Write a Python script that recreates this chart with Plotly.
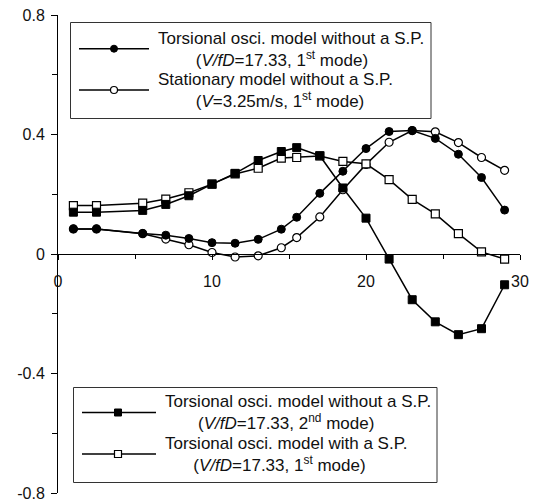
import plotly.graph_objects as go

# Measurement stations along the span
position = [1, 2.5, 5.5, 7, 8.5, 10, 11.5, 13, 14.5, 15.5, 17, 18.5, 20, 21.5, 23, 24.5, 26, 27.5, 29]

# Mode-shape amplitudes of each model
torsional_no_sp_1st = [0.084, 0.084, 0.069, 0.063, 0.052, 0.038, 0.036, 0.049, 0.083, 0.123,
                       0.203, 0.277, 0.353, 0.410, 0.413, 0.387, 0.334, 0.256, 0.147]
stationary_no_sp_1st = [0.084, 0.084, 0.068, 0.050, 0.031, 0.005, -0.010, -0.006, 0.021, 0.055,
                        0.124, 0.215, 0.300, 0.374, 0.413, 0.409, 0.373, 0.323, 0.280]
torsional_no_sp_2nd = [0.140, 0.140, 0.146, 0.166, 0.195, 0.234, 0.270, 0.313, 0.343, 0.356,
                       0.329, 0.221, 0.120, -0.017, -0.153, -0.227, -0.270, -0.250, -0.103]
torsional_with_sp_1st = [0.162, 0.162, 0.170, 0.184, 0.205, 0.234, 0.268, 0.287, 0.321, 0.323,
                         0.328, 0.310, 0.302, 0.249, 0.183, 0.134, 0.068, 0.007, -0.017]

x_tick_vals = [0, 10, 20, 30]
y_tick_vals = [-0.8, -0.4, 0, 0.4, 0.8]
y_tick_text = ["-0.8", "-0.4", "0", "0.4", "0.8"]

top_legend_labels = [
    ("Torsional osci. model without a S.P.", "(<i>V/fD</i>=17.33, 1<sup>st</sup> mode)"),
    ("Stationary model without a S.P.", "(<i>V</i>=3.25m/s, 1<sup>st</sup> mode)"),
]
bottom_legend_labels = [
    ("Torsional osci. model without a S.P.", "(<i>V/fD</i>=17.33, 2<sup>nd</sup> mode)"),
    ("Torsional osci. model with a S.P.", "(<i>V/fD</i>=17.33, 1<sup>st</sup> mode)"),
]

FONT = "Liberation Sans, Arial, sans-serif"
INK = "#111111"
W, H = 539, 503
ML, MR, MT, MB = 58, 19, 15, 10

filled_circle = dict(symbol="circle", size=8, color="black", line=dict(color="black", width=1))
open_circle = dict(symbol="circle", size=8, color="white", line=dict(color="black", width=1.2))
filled_square = dict(symbol="square", size=8, color="black", line=dict(color="black", width=1))
open_square = dict(symbol="square", size=8, color="white", line=dict(color="black", width=1.2))
line_style = dict(color="black", width=1.5)

fig = go.Figure()

for values, marker in [
    (stationary_no_sp_1st, open_circle),
    (torsional_with_sp_1st, open_square),
    (torsional_no_sp_1st, filled_circle),
    (torsional_no_sp_2nd, filled_square),
]:
    fig.add_trace(go.Scatter(x=position, y=values, mode="lines+markers",
                             line=line_style, marker=marker, showlegend=False,
                             cliponaxis=False))

# Legend boxes are laid out on an overlay axis pair measured in figure pixels
def legend_block(box, sample_x, items):
    x0, y0, x1, y1 = box
    fig.add_shape(type="rect", xref="x2", yref="y2", x0=x0, y0=y0, x1=x1, y1=y1,
                  line=dict(color="#333333", width=1), fillcolor="white", layer="below")
    for (line_y, marker, text_x, text_y, indent, (first, second)) in items:
        fig.add_trace(go.Scatter(x=[sample_x[0], sample_x[2]], y=[line_y, line_y],
                                 xaxis="x2", yaxis="y2", mode="lines",
                                 line=dict(color="black", width=1.5),
                                 showlegend=False, cliponaxis=False))
        fig.add_trace(go.Scatter(x=[sample_x[1]], y=[line_y], xaxis="x2", yaxis="y2",
                                 mode="markers", marker={**marker, "size": 7},
                                 showlegend=False, cliponaxis=False))
        fig.add_annotation(x=text_x, y=text_y, xref="x2", yref="y2",
                           text=first + "<br>" + "&nbsp;" * indent + second,
                           showarrow=False, xanchor="left", yanchor="middle", align="left",
                           font=dict(family=FONT, size=17, color=INK))

legend_block((70.5, 22.5, 431, 118.5), (79, 114, 149), [
    (48.7, filled_circle, 156, 49, 8, top_legend_labels[0]),
    (90, open_circle, 156, 90.5, 8, top_legend_labels[1]),
])
legend_block((73.5, 387.5, 437, 482.5), (82, 118, 156), [
    (412.5, filled_square, 163, 412.5, 7, bottom_legend_labels[0]),
    (454, open_square, 163, 454.5, 6, bottom_legend_labels[1]),
])

tick_font = dict(family=FONT, size=16, color=INK)

fig.update_layout(
    width=W, height=H,
    margin=dict(l=ML, r=MR, t=MT, b=MB, pad=0, autoexpand=False),
    paper_bgcolor="white", plot_bgcolor="white",
    xaxis=dict(range=[0, 30], anchor="free", position=0.5, automargin=False,
               tickvals=x_tick_vals, ticks="outside", ticklen=5, tickwidth=1,
               tickcolor="black", showline=True, linecolor="black", linewidth=1,
               showgrid=False, zeroline=False, tickfont=tick_font,
               ticklabelstandoff=8,
               minor=dict(dtick=5, ticks="outside", ticklen=4, tickcolor="black")),
    yaxis=dict(range=[-0.8, 0.8], tickvals=y_tick_vals, ticktext=y_tick_text,
               automargin=False,
               ticks="outside", ticklen=6, tickwidth=1, tickcolor="black",
               showline=True, linecolor="black", linewidth=1,
               showgrid=False, zeroline=False, tickfont=tick_font,
               ticklabelstandoff=3,
               minor=dict(dtick=0.2, ticks="outside", ticklen=5, tickcolor="black")),
    xaxis2=dict(range=[ML, W - MR], overlaying="x", visible=False, automargin=False),
    yaxis2=dict(range=[H - MB, MT], overlaying="y", visible=False, automargin=False),
    showlegend=False,
)

fig.write_html("out.html")
